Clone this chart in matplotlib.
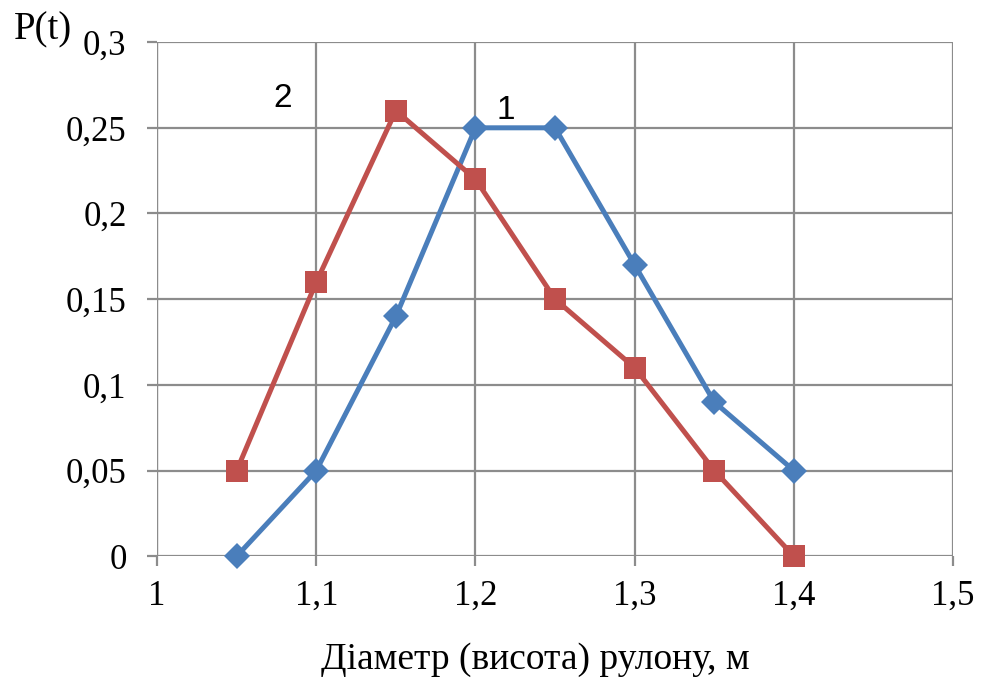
import matplotlib.pyplot as plt
from matplotlib.ticker import FuncFormatter

# roll diameter (height), m
diameter = [1.05, 1.1, 1.15, 1.2, 1.25, 1.3, 1.35, 1.4]
p_curve1 = [0, 0.05, 0.14, 0.25, 0.25, 0.17, 0.09, 0.05]
p_curve2 = [0.05, 0.16, 0.26, 0.22, 0.15, 0.11, 0.05, 0]

x_ticks = [1, 1.1, 1.2, 1.3, 1.4, 1.5]
y_ticks = [0, 0.05, 0.1, 0.15, 0.2, 0.25, 0.3]

blue = "#4a7ebb"
red = "#c0504d"
grid = "#8c8c8c"
serif = "Liberation Serif"


def comma(v, pos):
    s = ("%.2f" % v).rstrip("0").rstrip(".")
    return s.replace(".", ",")


fig = plt.figure(figsize=(9.82, 6.85), dpi=100)
ax = fig.add_axes([0.160, 0.188, 0.8105, 0.7505])

ax.plot(diameter, p_curve1, color=blue, lw=3.6, marker="D", ms=13,
        markeredgewidth=0, zorder=3, clip_on=False)
ax.plot(diameter, p_curve2, color=red, lw=3.6, marker="s", ms=16.5,
        markeredgewidth=0, zorder=3, clip_on=False)

ax.set_xlim(1, 1.5)
ax.set_ylim(0, 0.3)
ax.set_xticks(x_ticks)
ax.set_yticks(y_ticks)
ax.xaxis.set_major_formatter(FuncFormatter(comma))
ax.yaxis.set_major_formatter(FuncFormatter(comma))

for s in ax.spines.values():
    s.set_visible(False)
ax.grid(True, color=grid, lw=1.6, zorder=1)
ax.axvline(1, color=grid, lw=1.6, zorder=1)
ax.tick_params(axis="both", color=grid, width=1.6, length=7,
               labelsize=25, direction="out")
ax.tick_params(axis="y", pad=15)
ax.tick_params(axis="x", pad=10)
for lab in ax.get_xticklabels() + ax.get_yticklabels():
    lab.set_fontfamily(serif)

fig.text(535 / 982, 1 - 660 / 685, "Діаметр (висота) рулону, м",
         fontsize=27, fontfamily=serif, ha="center", va="center")
fig.text(0.014, 1 - 30 / 685, "P(t)", fontsize=28, fontfamily=serif,
         va="center")

ax.text(1.079, 0.2669, "2", fontsize=24, fontfamily="Liberation Sans",
        ha="center", va="center")
ax.text(1.219, 0.2600, "1", fontsize=24, fontfamily="Liberation Sans",
        ha="center", va="center")

fig.savefig("out.png", dpi=100, facecolor="white")
